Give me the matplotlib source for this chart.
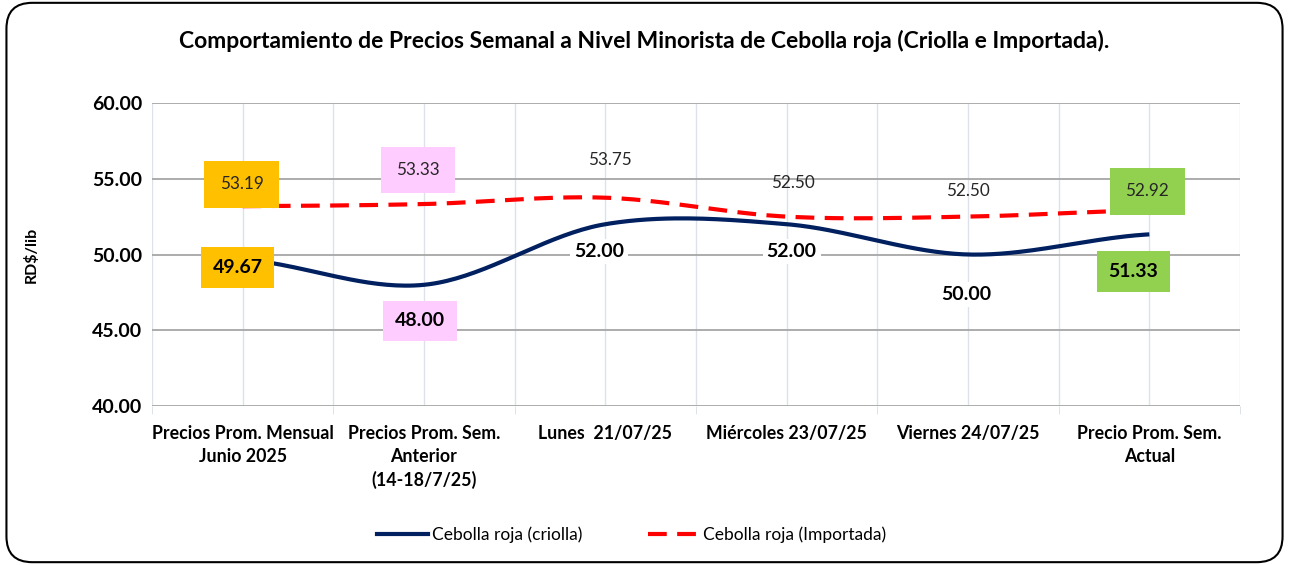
import numpy as np
import matplotlib
matplotlib.use("Agg")
import matplotlib.pyplot as plt
from matplotlib.patches import FancyBboxPatch
from matplotlib.lines import Line2D

plt.rcParams['font.family'] = ['Lato', 'DejaVu Sans']

categories = ["Precios Prom. Mensual\nJunio 2025",
              "Precios Prom. Sem.\nAnterior\n(14-18/7/25)",
              "Lunes  21/07/25",
              "Miércoles 23/07/25",
              "Viernes 24/07/25",
              "Precio Prom. Sem.\nActual"]
criolla = [49.67, 48.00, 52.00, 52.00, 50.00, 51.33]
importada = [53.19, 53.33, 53.75, 52.50, 52.50, 52.92]
yticks = [40, 45, 50, 55, 60]

# label box colours per category (None = no box)
box_colors = ["#FFC000", "#FFCCFF", None, None, None, "#92D050"]
crio_off = [(-5, 8), (-4, 36), (-6, 27), (5, 27), (-2, 40), (-16, 37)]
impo_off = [(-1, -22), (-6, -34), (5, -38), (6, -34), (0, -26), (-2, -19)]


def smooth(y, n=40):
    # excel-like smoothed line (uniform catmull-rom)
    y = np.asarray(y, float)
    p = np.concatenate([[y[0]], y, [y[-1]]])
    xs, ys = [], []
    for i in range(len(y) - 1):
        t = np.linspace(0, 1, n)
        p0, p1, p2, p3 = p[i], p[i + 1], p[i + 2], p[i + 3]
        m1 = (p2 - p0) / 2.0
        m2 = (p3 - p1) / 2.0
        h00 = 2 * t**3 - 3 * t**2 + 1
        h10 = t**3 - 2 * t**2 + t
        h01 = -2 * t**3 + 3 * t**2
        h11 = t**3 - t**2
        xs.append(i + t)
        ys.append(h00 * p1 + h10 * m1 + h01 * p2 + h11 * m2)
    return np.concatenate(xs), np.concatenate(ys)


fig = plt.figure(figsize=(12.89, 5.65), dpi=100)
fig.patches.append(FancyBboxPatch((0.005, 0.005), 0.99, 0.99, boxstyle="round,pad=0,rounding_size=0.02",
                                  transform=fig.transFigure, fill=False, edgecolor="black", linewidth=1.5,
                                  mutation_aspect=1289 / 565))
ax = fig.add_axes([0.1179, 0.2814, 0.8441, 0.5363])

x = np.arange(len(categories))
ax.set_xlim(-0.5, len(categories) - 0.5)
ax.set_ylim(40, 60)
ax.set_yticks(yticks)
ax.set_yticklabels(["%.2f" % v for v in yticks], fontsize=14, fontweight="bold")
ax.set_xticks(x)
ax.set_xticklabels(categories, fontsize=12.8, fontweight="bold", linespacing=1.4)
ax.set_xticks(np.arange(-0.5, len(categories), 1), minor=True)
ax.tick_params(axis="x", which="major", length=0, pad=14)
ax.tick_params(axis="x", which="minor", length=6, color="#d9dde8")
ax.tick_params(axis="y", length=0, pad=7)
for s in ax.spines.values():
    s.set_visible(False)
ax.grid(axis="y", color="#a6a6a6", linewidth=1.3)
ax.grid(axis="x", which="both", color="#dde1ea", linewidth=1)
ax.set_axisbelow(True)
ax.set_ylabel("RD$/lib", fontsize=11.5, fontweight="bold", labelpad=38)

sx, sy = smooth(criolla)
ax.plot(sx, sy, color="#002060", linewidth=3, solid_capstyle="butt", zorder=3)
sx, sy = smooth(importada)
ax.plot(sx, sy, color="#FF0000", linewidth=3, dashes=(4.5, 2.5), zorder=3)

for i in range(len(categories)):
    c = box_colors[i]
    if c:
        bb = dict(boxstyle="square,pad=0.6", facecolor=c, edgecolor="none")
        bb2 = dict(boxstyle="square,pad=0.9", facecolor=c, edgecolor="none")
    else:
        bb = dict(boxstyle="square,pad=0.2", facecolor="white", edgecolor="none")
        bb2 = None
    dx, dy = crio_off[i]
    ax.annotate("%.2f" % criolla[i], (x[i], criolla[i]), xytext=(dx * 0.72, -dy * 0.72),
                textcoords="offset points", ha="center", va="center", fontsize=14,
                fontweight="bold", bbox=bb, zorder=5)
    dx, dy = impo_off[i]
    ax.annotate("%.2f" % importada[i], (x[i], importada[i]), xytext=(dx * 0.72, -dy * 0.72),
                textcoords="offset points", ha="center", va="center", fontsize=12.3,
                color="#262626", bbox=bb2, zorder=5)

fig.text(0.5, 0.927, "Comportamiento de Precios Semanal a Nivel Minorista de Cebolla roja (Criolla e Importada).",
         ha="center", va="center", fontsize=16.5, fontweight="bold")

handles = [Line2D([], [], color="#002060", linewidth=3),
           Line2D([], [], color="#FF0000", linewidth=3, dashes=(4.5, 2.5))]
fig.legend(handles, ["Cebolla roja (criolla)", "Cebolla roja (Importada)"], loc="center",
           bbox_to_anchor=(0.49, 0.053), ncol=2, frameon=False, fontsize=12.5, handlelength=2.9,
           handletextpad=0.25, columnspacing=3.8)

fig.savefig("out.png", dpi=100)
